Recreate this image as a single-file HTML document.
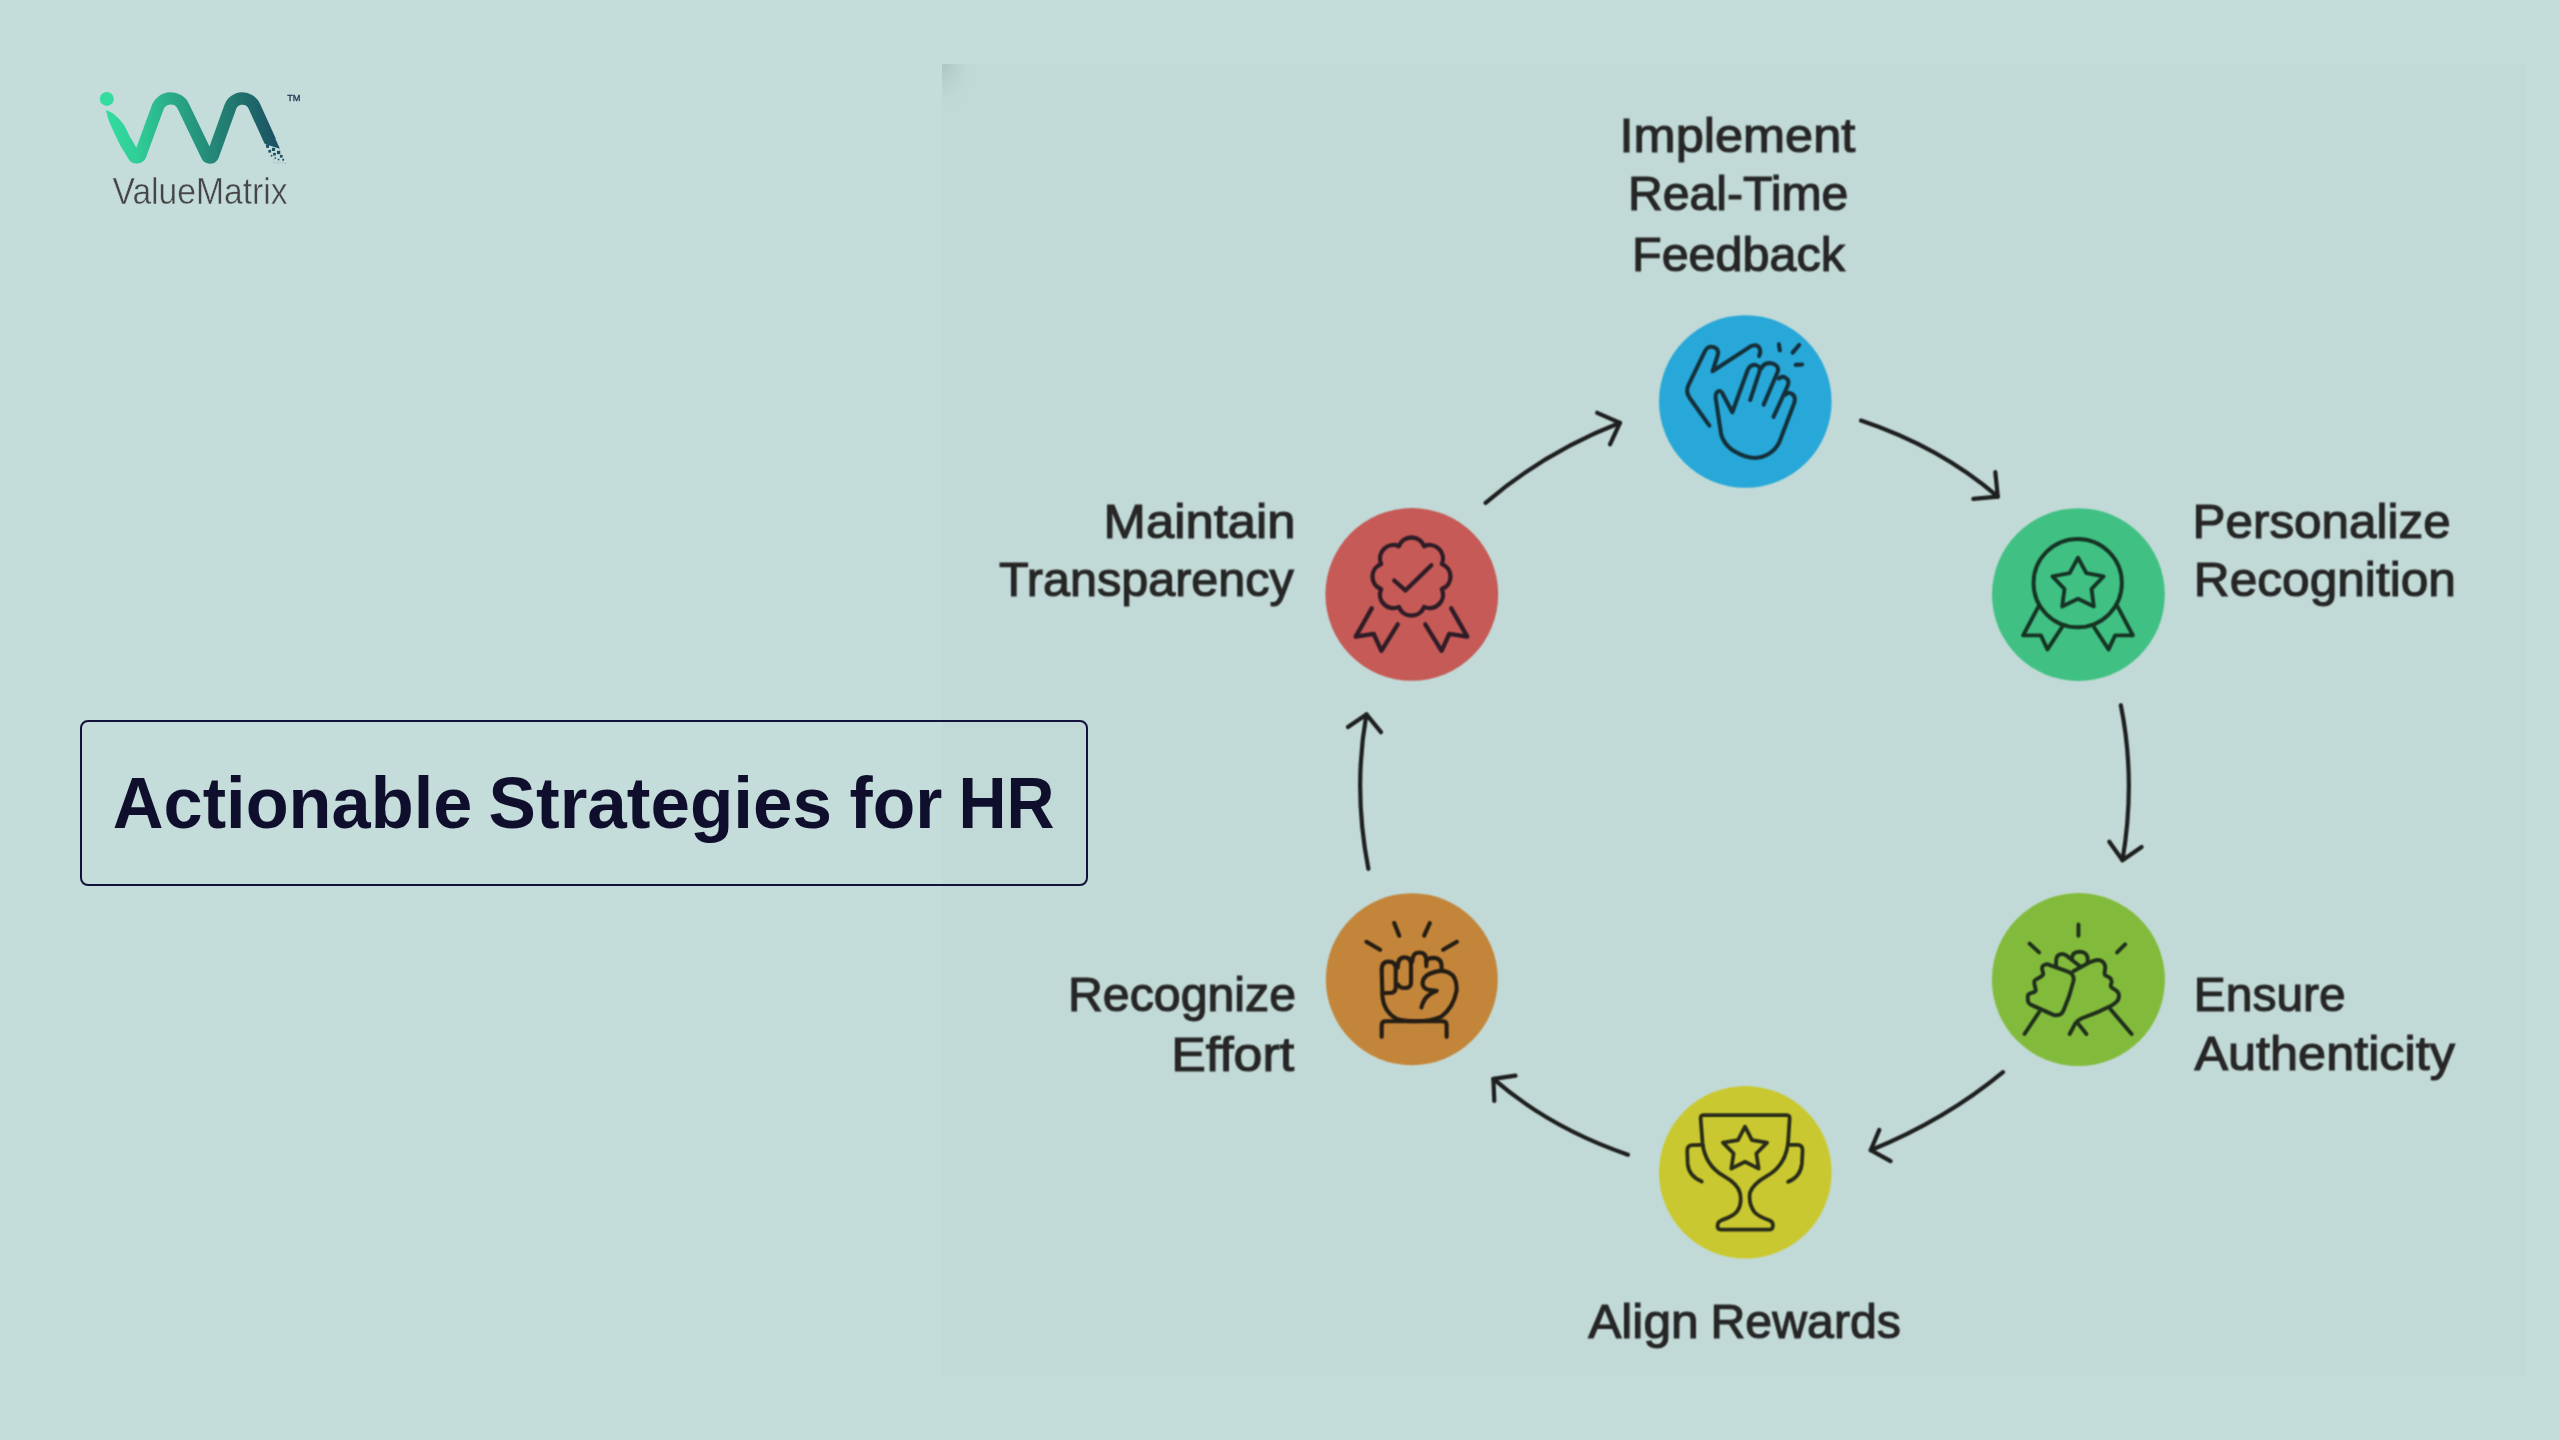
<!DOCTYPE html>
<html lang="en">
<head>
<meta charset="utf-8">
<title>Actionable Strategies for HR</title>
<style>
  html, body { margin: 0; padding: 0; }
  body {
    width: 2560px; height: 1440px; overflow: hidden; position: relative;
    background: #c4dcda;
    font-family: "Liberation Sans", sans-serif;
  }
  .panel {
    position: absolute; left: 942px; top: 64px; width: 1584px; height: 1312px;
    background: #c2dad7;
  }
  .panel::before {
    content: ""; position: absolute; left: 0; top: 0; width: 60px; height: 70px;
    background: radial-gradient(ellipse 36px 52px at 0 0, rgba(160,186,183,0.62) 0, rgba(170,196,193,0.42) 35%, rgba(185,210,207,0.16) 70%, rgba(194,218,215,0) 100%);
  }
  .title-box {
    position: absolute; left: 80px; top: 720px; width: 1004px; height: 162px;
    border: 2px solid #12123a; border-radius: 8px;
  }
  svg { position: absolute; left: 0; top: 0; overflow: visible; }
  .ttl { font-family: "Liberation Sans", sans-serif; font-weight: 700; font-size: 72.5px; fill: #0f0f2d; }
  .lbl { font-family: "Liberation Sans", sans-serif; font-weight: 400; font-size: 48.5px; fill: #262626; stroke: #262626; stroke-width: 1.15px; }
  .brand { font-family: "Liberation Sans", sans-serif; font-weight: 400; font-size: 37.5px; fill: #454545; stroke: #c4dcda; stroke-width: 0.5px; }
  .tm { font-family: "Liberation Sans", sans-serif; font-weight: 400; font-size: 9.7px; fill: #173450; stroke: #173450; stroke-width: 0.3px; }
  .arrow { fill: none; stroke: #1e1f1f; stroke-width: 4.2; stroke-linecap: round; stroke-linejoin: round; }
  .ico { fill: none; stroke: #1a282c; stroke-width: 3.5; stroke-linecap: round; stroke-linejoin: round; }
</style>
</head>
<body>
<div class="panel"></div>
<div class="title-box"></div>

<svg id="stage" width="2560" height="1440" viewBox="0 0 2560 1440">
  <defs>
    <linearGradient id="lg" gradientUnits="userSpaceOnUse" x1="106" y1="130" x2="285" y2="130">
      <stop offset="0" stop-color="#33dc9f"/>
      <stop offset="0.17" stop-color="#30cf98"/>
      <stop offset="0.37" stop-color="#2aaa87"/>
      <stop offset="0.58" stop-color="#248a78"/>
      <stop offset="0.76" stop-color="#20706c"/>
      <stop offset="1" stop-color="#1a4a62"/>
    </linearGradient>
    <filter id="soft" filterUnits="userSpaceOnUse" x="960" y="80" width="1540" height="1290" color-interpolation-filters="sRGB">
      <feConvolveMatrix order="3" kernelMatrix="1 2 1 2 4 2 1 2 1" divisor="16" edgeMode="none" preserveAlpha="false"/>
    </filter>
  </defs>

  <!-- ============ LOGO ============ -->
  <g id="logo" opacity="0.999">
    <circle cx="106.8" cy="98.9" r="7" fill="#33dc9f"/>
    <path d="M105.80 110.10 C106.95 110.63 110.57 111.88 112.70 113.30 C114.83 114.72 116.83 116.82 118.60 118.60 C120.37 120.38 121.92 122.03 123.30 124.00 C124.68 125.97 125.80 128.26 126.90 130.40 C128.00 132.54 128.98 135.07 129.90 136.86 C130.82 138.66 132.01 140.45 132.43 141.17 L135 145.5 L124.3 151.8 L121.73 147.45 C121.31 146.73 120.51 145.68 119.20 143.14 C117.90 140.60 115.57 135.79 113.90 132.20 C112.23 128.61 110.55 125.28 109.20 121.60 C107.85 117.92 106.37 112.02 105.80 110.10 Z" fill="url(#lg)"/>
    <path d="M125.72 142.00 L133.67 155.53 A3.7 3.7 0 0 0 140.34 154.93 L157.57 107.59 A14 14 0 0 1 183.34 106.32 L207.04 155.69 A3.2 3.2 0 0 0 212.94 155.39 L230.21 107.13 A13 13 0 0 1 254.28 106.13 L270.15 141.00"
          fill="none" stroke="url(#lg)" stroke-width="12.4" stroke-linejoin="round" stroke-linecap="butt"/>
    <path d="M261.6 136 L265.2 144.3 L279.9 148.7 L274.15 136 Z" fill="url(#lg)"/>
    <g fill="#1b4f64">
      <rect x="266.05" y="144.9" width="2.95" height="2.95"/>
      <rect x="271.95" y="147.85" width="3.1" height="3.1"/>
      <rect x="276.97" y="150.8" width="3.3" height="3.3"/>
      <rect x="268.4" y="149.9" width="2.7" height="2.7"/>
      <rect x="273.1" y="152.87" width="2.7" height="2.7"/>
      <rect x="279.9" y="154.9" width="2.7" height="2.7"/>
      <rect x="270.8" y="154.9" width="1.5" height="1.7"/>
      <rect x="274.6" y="157.3" width="1.5" height="1.5"/>
      <rect x="277.85" y="158.8" width="1.5" height="1.5"/>
      <rect x="282.3" y="158.8" width="1.8" height="1.9"/>
      <g opacity="0.55">
        <rect x="273.4" y="159.4" width="0.8" height="0.8"/>
        <rect x="273.4" y="162.3" width="0.8" height="0.8"/>
        <rect x="276.4" y="161.7" width="0.8" height="0.8"/>
        <rect x="277.6" y="163.2" width="0.8" height="0.8"/>
        <rect x="279.6" y="161.7" width="0.8" height="0.8"/>
        <rect x="282.6" y="162.0" width="0.8" height="0.8"/>
        <rect x="285.2" y="163.2" width="0.8" height="0.8"/>
      </g>
    </g>
    <text class="brand" x="112.5" y="203.5" textLength="175" lengthAdjust="spacingAndGlyphs">ValueMatrix</text>
    <text class="tm" x="287.2" y="100.8" textLength="13.3" lengthAdjust="spacingAndGlyphs">TM</text>
  </g>

  <!-- ============ TITLE ============ -->
  <g class="ttl" opacity="0.999">
    <text x="112.8" y="828.3" textLength="359.5" lengthAdjust="spacingAndGlyphs">Actionable</text>
    <text x="488.6" y="828.3" textLength="343.5" lengthAdjust="spacingAndGlyphs">Strategies</text>
    <text x="849.6" y="828.3" textLength="92.8" lengthAdjust="spacingAndGlyphs">for</text>
    <text x="958.4" y="828.3" textLength="96" lengthAdjust="spacingAndGlyphs">HR</text>
  </g>

  <!-- ============ DIAGRAM ============ -->
  <g id="diagram" filter="url(#soft)">
    <!-- circles -->
    <circle cx="1745.3" cy="401.5" r="86.3" fill="#27a8d8"/>
    <circle cx="2078.4" cy="594.6" r="86.4" fill="#40c083"/>
    <circle cx="2078.4" cy="979.6" r="86.5" fill="#82bb3c"/>
    <circle cx="1745.3" cy="1172.3" r="86.3" fill="#c9c830"/>
    <circle cx="1411.8" cy="979.2" r="86" fill="#c3853a"/>
    <circle cx="1411.8" cy="594.4" r="86.4" fill="#c55a56"/>

    <!-- arrows -->
    <g class="arrow">
      <path d="M1485.6 502.8 Q1545 452 1620 422.8"/>
      <path d="M1597.2 412.8 L1620 422.8 L1610 444.4"/>
      <path d="M1861 420.6 Q1940 447 1997.8 496.7"/>
      <path d="M1995.3 472.2 L1997.8 496.7 L1973.3 498.9"/>
      <path d="M2120.8 705.2 Q2136 780 2122.5 860.2"/>
      <path d="M2109.3 841.8 L2122.5 860.2 L2141.6 847"/>
      <path d="M2003 1072.1 Q1945 1120 1870.7 1150.2"/>
      <path d="M1879.3 1129.9 L1870.7 1150.2 L1890.6 1161.1"/>
      <path d="M1627.9 1154.7 Q1550 1128 1493.4 1078.9"/>
      <path d="M1515.5 1075.7 L1493.4 1078.9 L1494.3 1101"/>
      <path d="M1368.4 868.8 Q1353 790 1366.4 714.4"/>
      <path d="M1348 727 L1366.4 714.4 L1381 732.2"/>
    </g>

    <!-- ICONS (paths authored in 6.545x zoom coordinates, scaled down by group transform) -->
    <!-- 1: clapping hands -->
    <g class="ico" transform="translate(1620,290) scale(0.152812)" style="stroke-width:26.5; stroke:#15303a">
      <path d="M585 888 L455 705 Q428 665 448 622 L556 400 Q575 362 615 374 Q650 388 640 425 L605 532 L850 372 Q895 345 915 385 Q922 410 910 432"/>
      <path d="M852 720 L912 535 Q925 498 885 490 Q850 488 835 525 L735 800 L668 672 Q650 650 632 672 Q622 690 628 720 L662 945 Q680 1010 740 1050 Q870 1130 960 1080 Q1020 1050 1045 990 L1140 740 Q1155 690 1115 675 Q1095 668 1082 685"/>
      <path d="M925 512 Q945 472 990 480 Q1045 492 1032 535 L940 750"/>
      <path d="M1040 580 Q1060 560 1085 575 Q1110 590 1098 625 L1005 830"/>
      <path d="M1040 355 L1046 395 M1172 360 L1130 410 M1150 490 L1192 487"/>
    </g>
    <!-- 2: medal with star -->
    <g class="ico" transform="translate(1955,485) scale(0.152812)" style="stroke-width:25.5; stroke:#163424">
      <circle cx="803" cy="642" r="289"/>
      <path d="M805.0 476.0 L859.7 576.8 L972.4 597.6 L893.4 680.7 L908.5 794.4 L805.0 745.0 L701.5 794.4 L716.6 680.7 L637.6 597.6 L750.3 576.8 Z"/>
      <path d="M545 797 L446 984 L562 984 L605 1076 L700 931"/>
      <path d="M1065 797 L1164 984 L1048 984 L1005 1076 L910 931"/>
    </g>
    <!-- 3: fist bump (page coordinates) -->
    <g class="ico" style="stroke-width:3.9; stroke:#1f2f1c">
      <path d="M2078.45 924.5 L2078.45 935.7 M2029.6 943.6 L2039.1 952.4 M2125.1 944.4 L2117.1 952.4"/>
      <path d="M2047.2 964.1 L2068.6 971.9 Q2072.6 973.6 2073.4 977 Q2074 979.5 2073.2 982 L2069.1 996.2 L2063.8 1009.8 Q2062.6 1013 2060.5 1014.3 Q2057.5 1015.8 2054 1015.1 L2031.2 1004.9 Q2028.3 1003.5 2027.8 1000.5 L2027.8 996.2 Q2028 994 2030.2 993.4 L2034.6 991.9 Q2036.2 991.2 2035.6 989.2 L2034.4 983.8 Q2033.8 981 2035.4 979.9 L2041.6 976.3 Q2043.6 975.2 2043.1 973 L2042.1 969 Q2041.8 966.8 2043.3 965.6 Q2045 964 2047.2 964.1 Z"/>
      <path d="M2056 966.6 L2056.2 959.7 Q2056.4 955.6 2060 954.3 Q2063.2 953.4 2066.2 955.4 L2080 966.3"/>
      <path d="M2072.3 957.4 Q2072 953.6 2076 952.3 Q2081 950.8 2085 953.2 Q2088.6 956 2087.4 961.6"/>
      <path d="M2073.3 971.3 L2088.3 963 L2094.2 960.6 Q2099 958.9 2102.6 961.6 Q2105.2 964 2105.3 967.5 L2104.6 972.4 Q2104.2 975 2106.4 975.9 L2109.6 977.6 Q2111.9 979.4 2111.7 982 L2110.8 985 Q2110.4 987 2112.2 987.9 L2116.4 990.6 Q2119 992.8 2119 995.5 Q2119 999.5 2116.5 1001.9 Q2114.5 1003.8 2111.2 1005.8 L2099 1011.6 L2082.5 1018 Q2077.5 1020.2 2075.3 1023.3 L2069.7 1034"/>
      <path d="M2078.2 1023.6 L2086.4 1034 M2110.5 1009.3 L2131.6 1034 M2039.1 1012.2 L2024.5 1034"/>
    </g>
    <!-- 4: trophy -->
    <g class="ico" transform="translate(1620,1060) scale(0.152812)" style="stroke-width:24.5; stroke:#292c18">
      <path d="M545 360 L1090 360 Q1112 360 1110 385 L1100 540 Q1085 690 960 760 Q870 810 850 870 Q840 940 880 995 Q900 1020 980 1050 Q1005 1060 1000 1090 Q998 1110 975 1110 L660 1110 Q638 1110 638 1085 Q638 1058 665 1048 Q750 1020 770 985 Q800 940 785 870 Q770 810 680 760 Q555 690 540 540 L528 385 Q526 360 545 360 Z"/>
      <path d="M540 555 L470 557 Q440 560 440 595 L443 680 Q450 760 535 795"/>
      <path d="M1100 555 L1165 555 Q1195 558 1195 592 L1190 680 Q1180 765 1100 797"/>
      <path d="M818.0 436.0 L863.8 524.9 L962.6 541.0 L892.2 612.1 L907.3 711.0 L818.0 666.0 L728.7 711.0 L743.8 612.1 L673.4 541.0 L772.2 524.9 Z"/>
    </g>
    <!-- 5: raised fist -->
    <g class="ico" transform="translate(1290,870) scale(0.152812)" style="stroke-width:27; stroke:#241d14">
      <path d="M682 347 L715 430 M915 347 L878 430 M500 470 L590 522 M1092 470 L1002 522"/>
      <path d="M600 650 L605 830 Q615 930 700 975 Q740 990 820 990 Q930 990 990 960 Q1070 900 1090 790 Q1095 700 1040 672 Q1015 660 992 660"/>
      <path d="M600 650 Q600 600 645 600 Q692 600 692 645 L692 770 Q690 805 655 805 L620 805"/>
      <path d="M705 640 Q705 572 748 572 Q792 572 792 620 L792 740 Q790 772 750 772 Q715 772 708 750"/>
      <path d="M800 600 Q800 540 845 540 Q892 540 892 590 L892 630"/>
      <path d="M892 600 Q900 575 940 575 Q992 578 992 630 L992 660 Q930 665 895 690 Q860 720 870 755 Q880 790 960 790 Q900 815 880 850 Q865 875 860 900"/>
      <path d="M600 1092 L600 1015 Q600 990 628 990 L998 990 Q1025 990 1025 1015 L1025 1092"/>
    </g>
    <!-- 6: rosette with check -->
    <g class="ico" transform="translate(1290,485) scale(0.152812)" style="stroke-width:28; stroke:#2e1c26">
      <path d="M712.7 400.4 A88 88 0 0 1 877.3 400.4 A88 88 0 0 1 993.6 516.7 A88 88 0 0 1 993.6 681.3 A88 88 0 0 1 877.3 797.6 A88 88 0 0 1 712.7 797.6 A88 88 0 0 1 596.4 681.3 A88 88 0 0 1 596.4 516.7 A88 88 0 0 1 712.7 400.4 Z"/>
      <path d="M682 625 L755 690 L925 525"/>
      <path d="M535 807 L430 992 L548 975 L598 1085 L705 912"/>
      <path d="M1055 807 L1160 992 L1042 975 L992 1085 L885 912"/>
    </g>

    <!-- labels -->
    <g class="lbl">
      <text x="1619.6" y="151.7" textLength="235.7" lengthAdjust="spacingAndGlyphs">Implement</text>
      <text x="1628" y="210.3" textLength="220.3" lengthAdjust="spacingAndGlyphs">Real-Time</text>
      <text x="1632" y="270.5" textLength="213" lengthAdjust="spacingAndGlyphs">Feedback</text>

      <text x="2192.6" y="537.5" textLength="258" lengthAdjust="spacingAndGlyphs">Personalize</text>
      <text x="2193.8" y="596.3" textLength="262.1" lengthAdjust="spacingAndGlyphs">Recognition</text>

      <text x="2193.8" y="1011.3" textLength="151.9" lengthAdjust="spacingAndGlyphs">Ensure</text>
      <text x="2194.4" y="1070" textLength="260.6" lengthAdjust="spacingAndGlyphs">Authenticity</text>

      <text x="1588.2" y="1337.5" textLength="110.5" lengthAdjust="spacingAndGlyphs">Align</text>
      <text x="1710.5" y="1337.5" textLength="190.5" lengthAdjust="spacingAndGlyphs">Rewards</text>

      <text x="1068" y="1011.4" textLength="228" lengthAdjust="spacingAndGlyphs">Recognize</text>
      <text x="1171.2" y="1070.5" textLength="122.9" lengthAdjust="spacingAndGlyphs">Effort</text>

      <text x="1103.6" y="537.7" textLength="192" lengthAdjust="spacingAndGlyphs">Maintain</text>
      <text x="998.9" y="596.2" textLength="295" lengthAdjust="spacingAndGlyphs">Transparency</text>
    </g>
  </g>
</svg>
</body>
</html>
